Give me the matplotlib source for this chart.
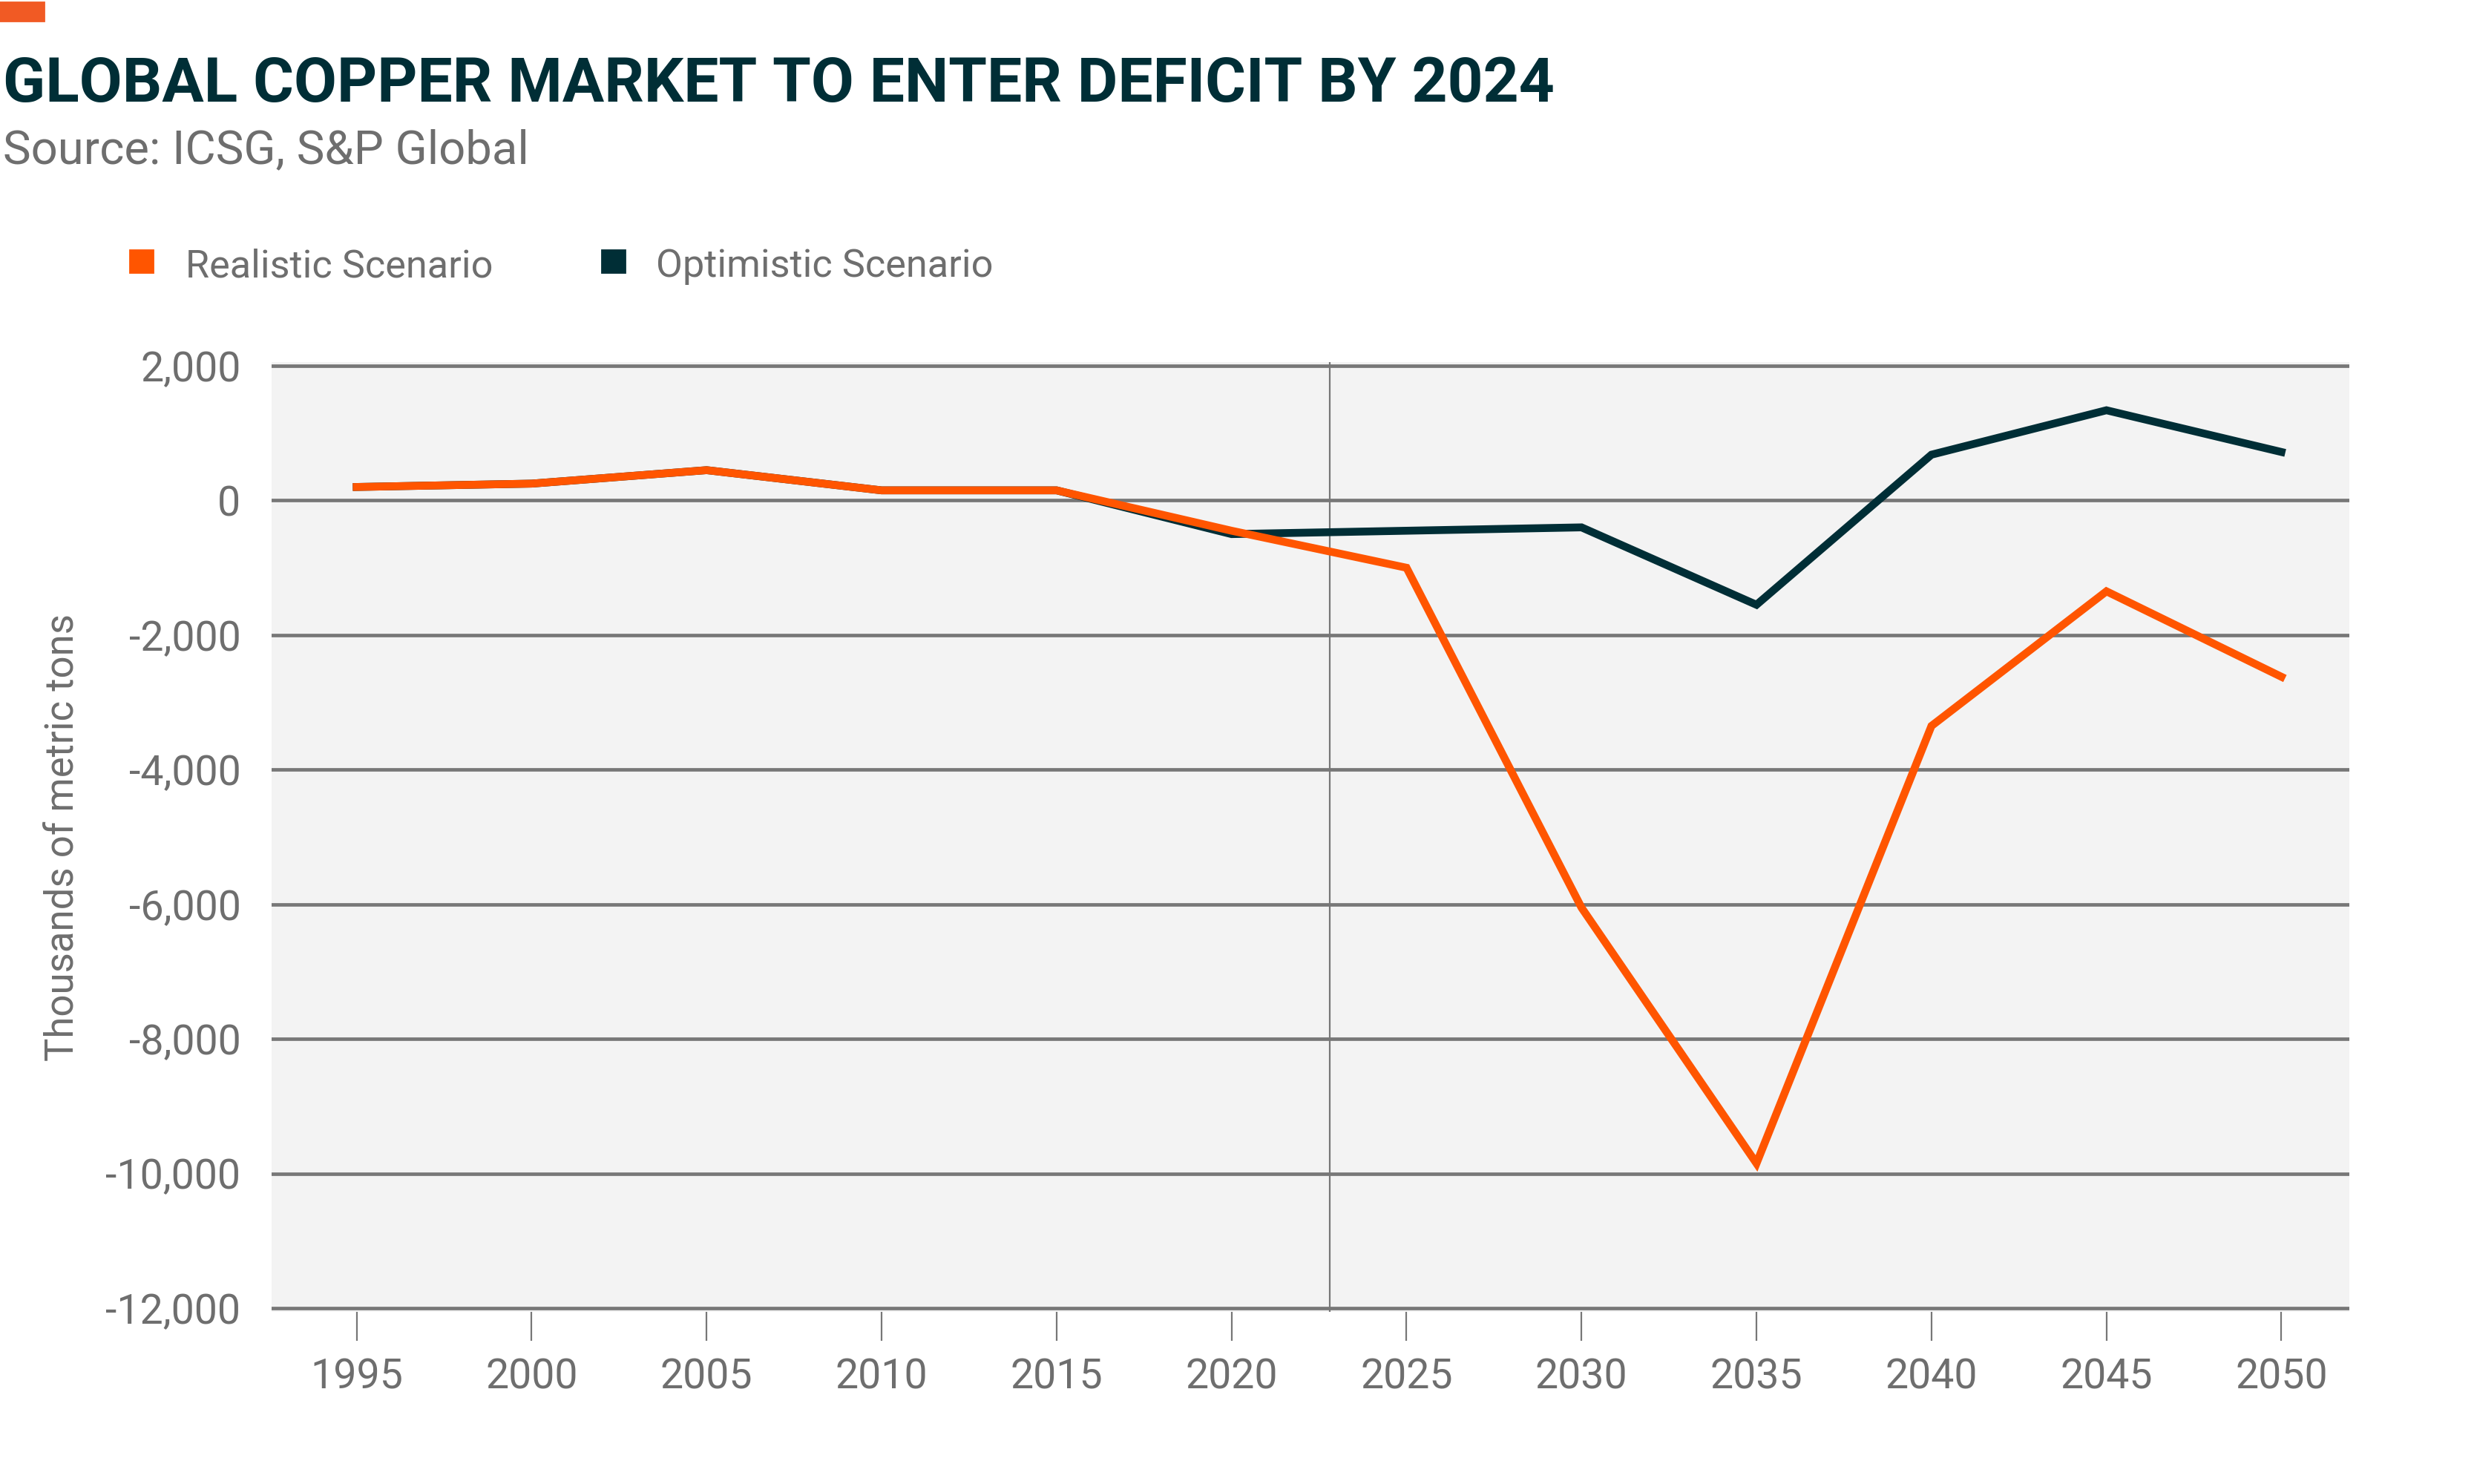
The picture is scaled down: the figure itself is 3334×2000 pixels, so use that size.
import matplotlib
matplotlib.use("Agg")
import matplotlib.pyplot as plt
from matplotlib.patches import Rectangle

years = [1995, 2000, 2005, 2010, 2015, 2020, 2025, 2030, 2035, 2040, 2045, 2050]
realistic = [200, 250, 450, 150, 150, -450, -1000, -6050, -9850, -3350, -1350, -2620]
optimistic = [200, 250, 450, 150, 150, -500, -450, -400, -1550, 680, 1340, 720]
yticks = [2000, 0, -2000, -4000, -6000, -8000, -10000, -12000]
marker_year = 2022.8

ORANGE = "#FF5500"
DARK = "#002E36"
GRID = "#777777"
TEXT = "#6E6E6E"

plt.rcParams["font.family"] = ["Roboto", "DejaVu Sans"]

fig = plt.figure(figsize=(16.67, 10), dpi=200)
ax = fig.add_axes([0.1098, 0.1158, 0.8398, 0.6404])
ax.set_facecolor("#F3F3F3")

for y in yticks:
    ax.axhline(y, color=GRID, lw=1.7, zorder=1)
ax.axvline(marker_year, color=GRID, lw=0.8, zorder=1)

ax.plot(years, optimistic, color=DARK, lw=3.8, zorder=3, solid_joinstyle="miter")
ax.plot(years, realistic, color=ORANGE, lw=3.8, zorder=4, solid_joinstyle="miter")

ax.set_xlim(1992.57, 2051.94)
ax.set_ylim(-12060, 2060)
ax.set_xticks(years)
ax.set_yticks(yticks)
ax.set_yticklabels([f"{v:,}" for v in yticks])
ax.tick_params(axis="x", length=14, width=0.8, color=GRID, pad=8,
               labelsize=20, labelcolor=TEXT)
ax.tick_params(axis="y", length=0, pad=15, labelsize=20, labelcolor=TEXT)
for s in ax.spines.values():
    s.set_visible(False)

ax.set_ylabel("Thousands of metric tons", fontsize=19, color=TEXT, labelpad=12)

# title block
fig.add_artist(Rectangle((0, 1 - 28 / 2000), 59 / 3334, 25 / 2000,
                         transform=fig.transFigure, color="#F15A24"))
fig.text(0.0012, 1 - 137 / 2000, "GLOBAL COPPER MARKET TO ENTER DEFICIT BY 2024",
         fontsize=30.2, fontweight="bold", color=DARK, va="baseline")
fig.text(0.0012, 1 - 220 / 2000, "Source: ICSG, S&P Global",
         fontsize=22.8, color=TEXT, va="baseline")

# legend
for x0, x1, col, label in [(175, 250, ORANGE, "Realistic Scenario"),
                           (811, 884, DARK, "Optimistic Scenario")]:
    fig.add_artist(Rectangle((x0 / 3334, 1 - 367 / 2000), 31 / 3334, 30 / 2000,
                             transform=fig.transFigure, color=col))
    fig.text(x1 / 3334, 1 - 373 / 2000, label, fontsize=18.8, color=TEXT, va="baseline")

fig.savefig("out.png")
